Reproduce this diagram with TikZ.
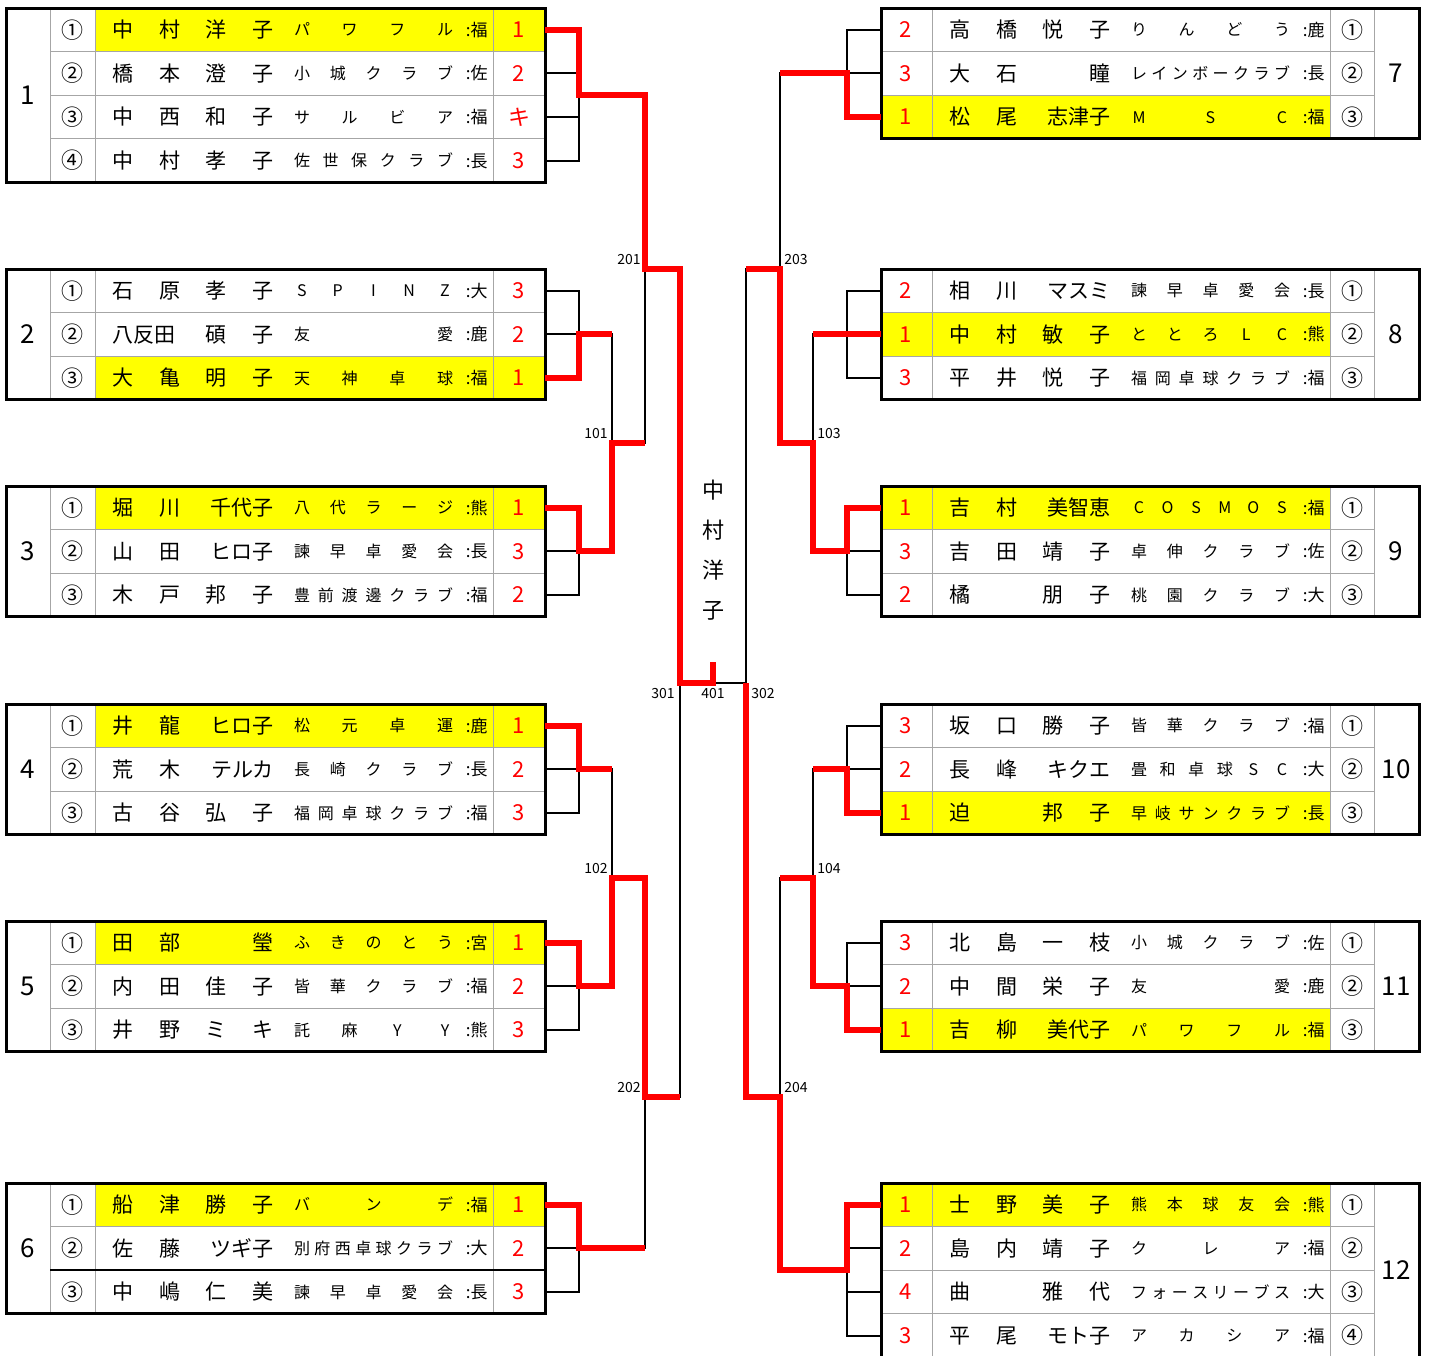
\documentclass[tikz,border=0pt]{standalone}
\usepackage{fontspec}
\setmainfont{Noto Sans CJK JP}
\usetikzlibrary{calc}
\definecolor{winred}{HTML}{FF0000}
\definecolor{winyellow}{HTML}{FFFF00}
\definecolor{gridgray}{HTML}{A6A6A6}

% column positions of the two sides
\newcommand\setleft{\def\colN{95}\def\colC{72.5}\def\colS{519}\def\colE{545}}
\newcommand\setright{\def\colN{932}\def\colC{1352}\def\colS{906}\def\colE{881}}

% name in four slots
\newcommand\nmslots[4]{%
  \node[nm, anchor=west] (\rid-n1) at (\colN+17,\ry) {#1};
  \node[nm, anchor=west] (\rid-n2) at (\colN+64,\ry) {#2};
  \node[nm, anchor=east] (\rid-n3) at (\colN+132,\ry) {#3};
  \node[nm, anchor=east] (\rid-n4) at (\colN+179,\ry) {#4};
}
% club name, spread over its field
\newcommand\club[1]{%
  \foreach \clubch [count=\cn] in {#1} {\xdef\clubn{\cn}}
  \foreach \clubch [count=\i] in {#1} {
    \node[clubtxt] (\rid-k\i) at ({\colN+207+(\i-1)*143/(\clubn-1)},\ry) {\clubch};
  }
}
% one player: id, row, no., name slots, club, prefecture, rank
\newcommand\prow[7]{%
  \pgfmathsetmacro\ry{\ttop+(#2-0.5)*43.6}
  \def\rid{#1-#2}
  \coordinate (#1-#2) at (\colE,\ry);
  \node[circ] (\rid-c) at (\colC,\ry) {#3};
  \nmslots#4
  \club{#5}
  \node[pref, anchor=east] (\rid-p) at (\colN+393,\ry) {:#6};
  \node[score] (\rid-s) at (\colS,\ry) {#7};
}
% group tables: id, top, rows, group, winner row
\newcommand\ltbl[5]{%
  \def\ttop{#2}
  \pgfmathsetmacro\tbot{#2+#3*43.6}
  \pgfmathsetmacro\wtop{#2+(#5-1)*43.6}
  \fill[winyellow] (95,\wtop) rectangle (545,{\wtop+43.6});
  \foreach \k in {2,...,#3} \draw[gridline] (50,{#2+(\k-1)*43.6}) -- (545,{#2+(\k-1)*43.6});
  \draw[gridline] (50,#2) -- (50,\tbot) (95,#2) -- (95,\tbot) (493,#2) -- (493,\tbot);
  \draw[frame] (6,#2) rectangle (545,\tbot);
  \node[grp] (#1-g) at (28,{(#2+\tbot)/2}) {#4};
}
\newcommand\rtbl[5]{%
  \def\ttop{#2}
  \pgfmathsetmacro\tbot{#2+#3*43.6}
  \pgfmathsetmacro\wtop{#2+(#5-1)*43.6}
  \fill[winyellow] (881,\wtop) rectangle (1330,{\wtop+43.6});
  \foreach \k in {2,...,#3} \draw[gridline] (881,{#2+(\k-1)*43.6}) -- (1374,{#2+(\k-1)*43.6});
  \draw[gridline] (932,#2) -- (932,\tbot) (1330,#2) -- (1330,\tbot) (1374,#2) -- (1374,\tbot);
  \draw[frame] (881,#2) rectangle (1419,\tbot);
  \node[grp] (#1-g) at (1396,{(#2+\tbot)/2}) {#4};
}

\begin{document}
\begin{tikzpicture}[x=0.5pt, y=-0.5pt,
    nm/.style={inner sep=0pt, text height=9pt, text depth=1.2pt, font=\fontsize{10.5}{12}\selectfont},
    clubtxt/.style={inner sep=0pt, text height=6.8pt, text depth=0.8pt, font=\fontsize{8}{9}\selectfont},
    pref/.style={inner sep=0pt, text height=7.2pt, text depth=0.8pt, font=\fontsize{8.5}{10}\selectfont},
    circ/.style={inner sep=0pt, font=\fontsize{11}{12}\selectfont},
    score/.style={inner sep=0pt, text=winred, font=\fontsize{11}{12}\selectfont},
    grp/.style={inner sep=0pt, font=\fontsize{13}{14}\selectfont},
    rnd/.style={inner sep=1pt, font=\fontsize{7}{8}\selectfont},
    champ/.style={align=center, inner sep=0pt, font=\fontsize{11}{20}\selectfont},
    gridline/.style={line width=0.5pt, gridgray},
    frame/.style={line width=1.5pt},
    bk/.style={line width=1pt},
    rd/.style={line width=3pt, winred}
  ]
  \fill[white] (0,0) rectangle (1432,1356);
  \useasboundingbox (0,0) rectangle (1432,1356);
  \clip (0,0) rectangle (1432,1356);

  % left groups
  \setleft
  \ltbl{t1}{8}{4}{1}{1}
  \prow{t1}{1}{①}{{中}{村}{洋}{子}}{パ,ワ,フ,ル}{福}{1}
  \prow{t1}{2}{②}{{橋}{本}{澄}{子}}{小,城,ク,ラ,ブ}{佐}{2}
  \prow{t1}{3}{③}{{中}{西}{和}{子}}{サ,ル,ビ,ア}{福}{キ}
  \prow{t1}{4}{④}{{中}{村}{孝}{子}}{佐,世,保,ク,ラ,ブ}{長}{3}

  \ltbl{t2}{269}{3}{2}{3}
  \prow{t2}{1}{①}{{石}{原}{孝}{子}}{S,P,I,N,Z}{大}{3}
  \prow{t2}{2}{②}{{八反田}{}{碩}{子}}{友,愛}{鹿}{2}
  \prow{t2}{3}{③}{{大}{亀}{明}{子}}{天,神,卓,球}{福}{1}

  \ltbl{t3}{486}{3}{3}{1}
  \prow{t3}{1}{①}{{堀}{川}{}{千代子}}{八,代,ラ,ー,ジ}{熊}{1}
  \prow{t3}{2}{②}{{山}{田}{}{ヒロ子}}{諫,早,卓,愛,会}{長}{3}
  \prow{t3}{3}{③}{{木}{戸}{邦}{子}}{豊,前,渡,邊,ク,ラ,ブ}{福}{2}

  \ltbl{t4}{704}{3}{4}{1}
  \prow{t4}{1}{①}{{井}{龍}{}{ヒロ子}}{松,元,卓,運}{鹿}{1}
  \prow{t4}{2}{②}{{荒}{木}{}{テルカ}}{長,崎,ク,ラ,ブ}{長}{2}
  \prow{t4}{3}{③}{{古}{谷}{弘}{子}}{福,岡,卓,球,ク,ラ,ブ}{福}{3}

  \ltbl{t5}{921}{3}{5}{1}
  \prow{t5}{1}{①}{{田}{部}{}{瑩}}{ふ,き,の,と,う}{宮}{1}
  \prow{t5}{2}{②}{{内}{田}{佳}{子}}{皆,華,ク,ラ,ブ}{福}{2}
  \prow{t5}{3}{③}{{井}{野}{ミ}{キ}}{託,麻,Y,Y}{熊}{3}

  \ltbl{t6}{1183}{3}{6}{1}
  \draw[bk] (50,1270.2) -- (545,1270.2);
  \prow{t6}{1}{①}{{船}{津}{勝}{子}}{バ,ン,デ}{福}{1}
  \prow{t6}{2}{②}{{佐}{藤}{}{ツギ子}}{別,府,西,卓,球,ク,ラ,ブ}{大}{2}
  \prow{t6}{3}{③}{{中}{嶋}{仁}{美}}{諫,早,卓,愛,会}{長}{3}

  % right groups
  \setright
  \rtbl{t7}{8}{3}{7}{3}
  \prow{t7}{1}{①}{{高}{橋}{悦}{子}}{り,ん,ど,う}{鹿}{2}
  \prow{t7}{2}{②}{{大}{石}{}{瞳}}{レ,イ,ン,ボ,ー,ク,ラ,ブ}{長}{3}
  \prow{t7}{3}{③}{{松}{尾}{}{志津子}}{M,S,C}{福}{1}

  \rtbl{t8}{269}{3}{8}{2}
  \prow{t8}{1}{①}{{相}{川}{}{マスミ}}{諫,早,卓,愛,会}{長}{2}
  \prow{t8}{2}{②}{{中}{村}{敏}{子}}{と,と,ろ,L,C}{熊}{1}
  \prow{t8}{3}{③}{{平}{井}{悦}{子}}{福,岡,卓,球,ク,ラ,ブ}{福}{3}

  \rtbl{t9}{486}{3}{9}{1}
  \prow{t9}{1}{①}{{吉}{村}{}{美智恵}}{C,O,S,M,O,S}{福}{1}
  \prow{t9}{2}{②}{{吉}{田}{靖}{子}}{卓,伸,ク,ラ,ブ}{佐}{3}
  \prow{t9}{3}{③}{{橘}{}{朋}{子}}{桃,園,ク,ラ,ブ}{大}{2}

  \rtbl{t10}{704}{3}{10}{3}
  \prow{t10}{1}{①}{{坂}{口}{勝}{子}}{皆,華,ク,ラ,ブ}{福}{3}
  \prow{t10}{2}{②}{{長}{峰}{}{キクエ}}{畳,和,卓,球,S,C}{大}{2}
  \prow{t10}{3}{③}{{迫}{}{邦}{子}}{早,岐,サ,ン,ク,ラ,ブ}{長}{1}

  \rtbl{t11}{921}{3}{11}{3}
  \prow{t11}{1}{①}{{北}{島}{一}{枝}}{小,城,ク,ラ,ブ}{佐}{3}
  \prow{t11}{2}{②}{{中}{間}{栄}{子}}{友,愛}{鹿}{2}
  \prow{t11}{3}{③}{{吉}{柳}{}{美代子}}{パ,ワ,フ,ル}{福}{1}

  \rtbl{t12}{1183}{4}{12}{1}
  \prow{t12}{1}{①}{{士}{野}{美}{子}}{熊,本,球,友,会}{熊}{1}
  \prow{t12}{2}{②}{{島}{内}{靖}{子}}{ク,レ,ア}{福}{2}
  \prow{t12}{3}{③}{{曲}{}{雅}{代}}{フ,ォ,ー,ス,リ,ー,ブ,ス}{大}{4}
  \prow{t12}{4}{④}{{平}{尾}{}{モト子}}{ア,カ,シ,ア}{福}{3}

  % junctions
  \coordinate (J1) at ($(t1-1)!0.5!(t1-4)+(34,0)$);
  \coordinate (J2) at ($(t2-2)+(34,0)$);
  \coordinate (J3) at ($(t3-2)+(34,0)$);
  \coordinate (J4) at ($(t4-2)+(34,0)$);
  \coordinate (J5) at ($(t5-2)+(34,0)$);
  \coordinate (J6) at ($(t6-2)+(34,0)$);
  \coordinate (J7) at ($(t7-2)+(-34,0)$);
  \coordinate (J8) at ($(t8-2)+(-34,0)$);
  \coordinate (J9) at ($(t9-2)+(-34,0)$);
  \coordinate (J10) at ($(t10-2)+(-34,0)$);
  \coordinate (J11) at ($(t11-2)+(-34,0)$);
  \coordinate (J12) at ($(t12-1)!0.5!(t12-4)+(-34,0)$);
  \coordinate (m101) at ($(J2)!0.5!(J3)+(33,0)$);
  \coordinate (m102) at ($(J4)!0.5!(J5)+(33,0)$);
  \coordinate (m103) at ($(J8)!0.5!(J9)+(-34,0)$);
  \coordinate (m104) at ($(J10)!0.5!(J11)+(-34,0)$);
  \coordinate (m201) at ($(J1 -| m101)!0.5!(m101)+(33,0)$);
  \coordinate (m203) at ($(m201)+(135,0)$);
  \coordinate (m202) at (645,1097);
  \coordinate (m204) at (780,1097);
  \coordinate (m301) at ($(m201)!0.5!(m202)+(35,0)$);
  \coordinate (m302) at ($(m301)+(66,0)$);
  \coordinate (m401) at ($(m301)!0.5!(m302)$);
  \coordinate (top401) at ($(m401)+(0,-21)$);

  % black lines
  \draw[bk] (t1-1) -| (J1) |- (t1-4);
  \draw[bk] (t1-2) -- (t1-2 -| J1) (t1-3) -- (t1-3 -| J1);
  \foreach \t in {t2,t3,t4,t5,t6} {
    \draw[bk] (\t-1) -| (\t-2 -| J2) |- (\t-3);
  }
  \foreach \t in {t7,t8,t9,t10,t11} {
    \draw[bk] (\t-1) -| (\t-2 -| J7) |- (\t-3);
  }
  \draw[bk] (t2-2) -- (J2) (t3-2) -- (J3) (t4-2) -- (J4) (t5-2) -- (J5) (t6-2) -- (J6);
  \draw[bk] (t7-2) -- (J7) (t8-2) -- (J8) (t9-2) -- (J9) (t10-2) -- (J10) (t11-2) -- (J11);
  \draw[bk] (t12-1) -| (J12) |- (t12-4);
  \draw[bk] (t12-2) -- (t12-2 -| J12) (t12-3) -- (t12-3 -| J12);
  \draw[bk] (J2) -| (m101) |- (J3);
  \draw[bk] (J4) -| (m102) |- (J5);
  \draw[bk] (J1) -| (m201) |- (m101);
  \draw[bk] (m102) -| (m202) |- (J6);
  \draw[bk] (J8) -| (m103) |- (J9);
  \draw[bk] (J10) -| (m104) |- (J11);
  \draw[bk] (J7) -| (m203) |- (m103);
  \draw[bk] (m104) -| (m204) |- (J12);
  \draw[bk] (m201) -| (m301) |- (m202);
  \draw[bk] (m203) -| (m302) |- (m204);
  \draw[bk] (m301) -- (m302);

  % winners
  \draw[rd] (t1-1) -| (J1) -| (m201) -| (m301) -- (m401) -- (top401);
  \draw[rd] (t2-3) -| (J2) -- (J2 -| m101);
  \draw[rd] (t3-1) -| (J3) -| (m101) -- (m101 -| m201);
  \draw[rd] (t4-1) -| (J4) -- (J4 -| m102);
  \draw[rd] (t5-1) -| (J5) -| (m102) -| (m202) -- (m202 -| m301);
  \draw[rd] (t6-1) -| (J6) -- (J6 -| m202);
  \draw[rd] (t7-3) -| (J7) -- (J7 -| m203);
  \draw[rd] (t8-2) -- (J8) -- (J8 -| m103);
  \draw[rd] (t9-1) -| (J9) -| (m103) -| (m203) -- (m203 -| m302);
  \draw[rd] (t10-3) -| (J10) -- (J10 -| m104);
  \draw[rd] (t11-3) -| (J11) -| (m104) -- (m104 -| m204);
  \draw[rd] (t12-1) -| (J12) -| (m204) -| (m302);

  % match numbers
  \node[rnd, anchor=south east] (l101) at ($(m101)+(-2,-2)$) {101};
  \node[rnd, anchor=south east] (l102) at ($(m102)+(-2,-2)$) {102};
  \node[rnd, anchor=south east] (l201) at ($(m201)+(-2,-2)$) {201};
  \node[rnd, anchor=south east] (l202) at ($(m202)+(-2,-2)$) {202};
  \node[rnd, anchor=south west] (l103) at ($(m103)+(2,-2)$) {103};
  \node[rnd, anchor=south west] (l104) at ($(m104)+(2,-2)$) {104};
  \node[rnd, anchor=south west] (l203) at ($(m203)+(2,-2)$) {203};
  \node[rnd, anchor=south west] (l204) at ($(m204)+(2,-2)$) {204};
  \node[rnd, anchor=north east] (l301) at ($(m301)+(-3,3)$) {301};
  \node[rnd, anchor=north] (l401) at ($(m401)+(0,3)$) {401};
  \node[rnd, anchor=north west] (l302) at ($(m302)+(3,3)$) {302};

  % champion
  \node[champ] (winner) at (713,550) {中\\村\\洋\\子};
\end{tikzpicture}
\end{document}
